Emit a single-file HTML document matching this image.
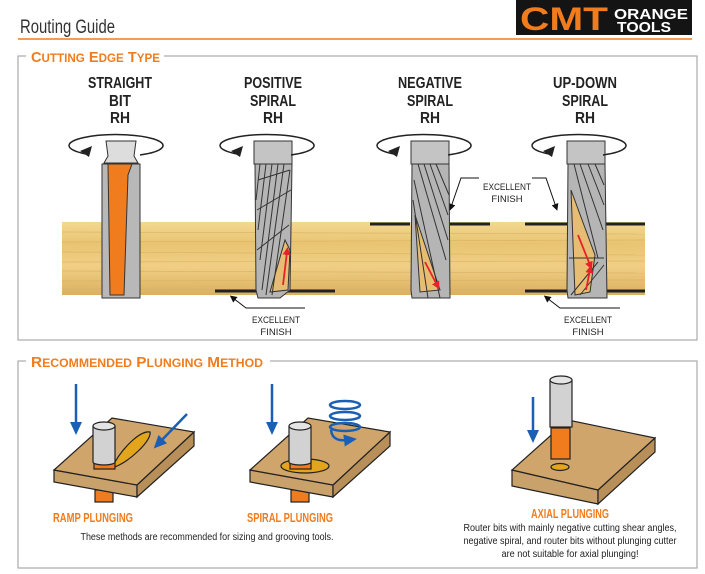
<!DOCTYPE html>
<html><head><meta charset="utf-8"><style>
html,body{margin:0;padding:0;background:#fff}
svg{display:block}
text{font-family:"Liberation Sans",sans-serif}
</style></head><body>
<svg width="705" height="574" viewBox="0 0 705 574" xmlns="http://www.w3.org/2000/svg">
<defs>
<linearGradient id="wood" x1="0" y1="0" x2="0" y2="1">
<stop offset="0" stop-color="#f3d890"/><stop offset="0.3" stop-color="#e8c472"/><stop offset="0.6" stop-color="#f0cf85"/><stop offset="1" stop-color="#dcb060"/>
</linearGradient>
<marker id="ah" markerUnits="userSpaceOnUse" markerWidth="14" markerHeight="14" refX="4" refY="7" orient="auto"><path d="M0,1 L13,7 L0,13 z" fill="#1a5fb4"/></marker>
<marker id="bk" markerUnits="userSpaceOnUse" markerWidth="7" markerHeight="7" refX="3" refY="3.5" orient="auto"><path d="M0,0 L7,3.5 L0,7 z" fill="#111"/></marker>
<marker id="rd" markerUnits="userSpaceOnUse" markerWidth="8" markerHeight="8" refX="3" refY="4" orient="auto"><path d="M0,0 L8,4 L0,8 z" fill="#e8212a"/></marker>
</defs>
<!-- header -->
<text x="20" y="33" font-size="19" fill="#333" textLength="95" lengthAdjust="spacingAndGlyphs">Routing Guide</text>
<rect x="516" y="0" width="176" height="35" fill="#141414"/>
<text x="520" y="30" font-size="32" font-weight="bold" fill="#f07c1e" textLength="88" lengthAdjust="spacingAndGlyphs">CMT</text>
<text x="614" y="19" font-size="15" font-weight="bold" fill="#fff" textLength="74" lengthAdjust="spacingAndGlyphs">ORANGE</text>
<text x="617" y="32" font-size="15" font-weight="bold" fill="#fff" textLength="54" lengthAdjust="spacingAndGlyphs">TOOLS</text>
<line x1="18" y1="39" x2="692" y2="39" stroke="#f07c1e" stroke-width="1.5"/>
<!-- box 1 -->
<rect x="18" y="56" width="679" height="284" fill="none" stroke="#aaa" stroke-width="1.2"/>
<rect x="26" y="48" width="138" height="16" fill="#fff"/>
<text x="31" y="62" font-size="15" font-weight="bold" fill="#f07c1e" textLength="129" lengthAdjust="spacingAndGlyphs">C<tspan font-size="12">UTTING</tspan> E<tspan font-size="12">DGE</tspan> T<tspan font-size="12">YPE</tspan></text>
<g font-size="16" font-weight="bold" fill="#222" text-anchor="middle">
<text x="120" y="88" textLength="64" lengthAdjust="spacingAndGlyphs">STRAIGHT</text><text x="120" y="106" textLength="22" lengthAdjust="spacingAndGlyphs">BIT</text><text x="120" y="123" textLength="20" lengthAdjust="spacingAndGlyphs">RH</text>
<text x="273" y="88" textLength="58" lengthAdjust="spacingAndGlyphs">POSITIVE</text><text x="273" y="106" textLength="46" lengthAdjust="spacingAndGlyphs">SPIRAL</text><text x="273" y="123" textLength="20" lengthAdjust="spacingAndGlyphs">RH</text>
<text x="430" y="88" textLength="64" lengthAdjust="spacingAndGlyphs">NEGATIVE</text><text x="430" y="106" textLength="46" lengthAdjust="spacingAndGlyphs">SPIRAL</text><text x="430" y="123" textLength="20" lengthAdjust="spacingAndGlyphs">RH</text>
<text x="585" y="88" textLength="64" lengthAdjust="spacingAndGlyphs">UP-DOWN</text><text x="585" y="106" textLength="46" lengthAdjust="spacingAndGlyphs">SPIRAL</text><text x="585" y="123" textLength="20" lengthAdjust="spacingAndGlyphs">RH</text>
</g>
<!-- wood -->
<rect x="62" y="222" width="583" height="73" fill="url(#wood)"/>
<g stroke="#d9ac5c" stroke-width="0.7" opacity="0.7">
<line x1="62" y1="232" x2="645" y2="234"/><line x1="62" y1="242" x2="645" y2="240"/><line x1="62" y1="252" x2="645" y2="255"/><line x1="62" y1="262" x2="645" y2="261"/><line x1="62" y1="271" x2="645" y2="273"/><line x1="62" y1="281" x2="645" y2="280"/><line x1="62" y1="289" x2="645" y2="290"/>
</g>
<!-- finish lines -->
<g stroke="#222" stroke-width="3">
<line x1="215" y1="291" x2="335" y2="291"/>
<line x1="370" y1="224" x2="410" y2="224"/><line x1="450" y1="224" x2="490" y2="224"/>
<line x1="525" y1="224" x2="645" y2="224"/><line x1="525" y1="291" x2="645" y2="291"/>
</g>
<g stroke="#111" fill="none" stroke-width="1">
<polyline points="305,308 246,308 233,298" marker-end="url(#bk)"/>
<polyline points="479,178 461,178 451,207" marker-end="url(#bk)"/>
<polyline points="532,178 546,178 556,207" marker-end="url(#bk)"/>
<polyline points="620,308 560,308 547,298" marker-end="url(#bk)"/>
</g>
<g font-size="9.5" fill="#222" text-anchor="middle">
<text x="276" y="323" textLength="48" lengthAdjust="spacingAndGlyphs">EXCELLENT</text><text x="276" y="335">FINISH</text>
<text x="507" y="190" textLength="48" lengthAdjust="spacingAndGlyphs">EXCELLENT</text><text x="507" y="202">FINISH</text>
<text x="588" y="323" textLength="48" lengthAdjust="spacingAndGlyphs">EXCELLENT</text><text x="588" y="335">FINISH</text>
</g>
<!-- straight bit -->
<g stroke="#333" stroke-width="1">
<path d="M106,141 L136,141 L134,156 L138,163 L104,163 L108,156 Z" fill="#ddd"/>
<rect x="102" y="164" width="38" height="134" fill="#b8b8b8"/>
<path d="M108,164 L132,164 L128,175 L124,295 L110,295 Z" fill="#f07c1e"/>
</g>
<!-- spiral bits -->
<g stroke="#333" stroke-width="1">
<rect x="254" y="141" width="38" height="23" fill="#c4c4c4"/>
<path d="M255,164 L292,164 L290,290 L280,298 L258,298 L256,290 Z" fill="#b5b5b5"/>
<path d="M285,240 L290,250 L288,290 L270,292 Z" fill="#e6bd72"/>
<path d="M260,164 L256,200 M266,164 L258,230 M272,164 L260,260 M278,164 L262,290 M284,164 L266,295 M290,170 L272,295 M258,180 L290,170 M257,210 L291,190 M257,250 L289,225" fill="none"/>
<rect x="411" y="141" width="38" height="23" fill="#c4c4c4"/>
<path d="M412,164 L449,164 L450,298 L412,298 L411,290 Z" fill="#b5b5b5"/>
<path d="M415,215 L440,290 L420,292 Z" fill="#e6bd72"/>
<path d="M418,164 L446,260 M424,164 L448,240 M430,164 L448,215 M436,164 L449,195 M414,180 L440,298 M413,200 L428,298" fill="none"/>
<rect x="567" y="141" width="38" height="23" fill="#c4c4c4"/>
<path d="M568,164 L605,164 L607,298 L568,298 L567,290 Z" fill="#b5b5b5"/>
<path d="M571,190 L595,255 L590,292 L575,295 Z" fill="#e6bd72"/>
<path d="M574,164 L598,258 M580,164 L603,230 M588,164 L604,205 M595,164 L604,185 M569,258 L604,258 M571,295 L598,262 M580,295 L604,265" fill="none"/>
</g>
<g stroke="#e8212a" stroke-width="1.8">
<line x1="283" y1="285" x2="287" y2="252" marker-end="url(#rd)"/>
<line x1="425" y1="262" x2="437" y2="285" marker-end="url(#rd)"/>
<line x1="578" y1="235" x2="590" y2="265" marker-end="url(#rd)"/>
<line x1="586" y1="290" x2="590" y2="270" marker-end="url(#rd)"/>
</g>
<!-- rotation ellipses -->
<g fill="none" stroke="#222" stroke-width="1.5">
<path d="M86,154 A47,11 0 1 1 140,155"/>
<path d="M237,154 A47,11 0 1 1 291,155"/>
<path d="M394,154 A47,11 0 1 1 448,155"/>
<path d="M549,154 A47,11 0 1 1 603,155"/>
</g>
<g fill="#222">
<path d="M80,151 L92,146 L89,157 Z"/><path d="M231,151 L243,146 L240,157 Z"/><path d="M388,151 L400,146 L397,157 Z"/><path d="M543,151 L555,146 L552,157 Z"/>
</g>
<!-- box 2 -->
<rect x="18" y="361" width="679" height="207" fill="none" stroke="#aaa" stroke-width="1.2"/>
<rect x="26" y="353" width="244" height="16" fill="#fff"/>
<text x="31" y="367" font-size="15" font-weight="bold" fill="#f07c1e" textLength="232" lengthAdjust="spacingAndGlyphs">R<tspan font-size="12">ECOMMENDED</tspan> P<tspan font-size="12">LUNGING</tspan> M<tspan font-size="12">ETHOD</tspan></text>
<!-- ramp -->
<g stroke="#222" stroke-width="1.2">
<rect x="95" y="490" width="18" height="12" fill="#f07c1e"/>
<polygon points="54,470 137,485 137,497 54,482" fill="#c9a26b"/>
<polygon points="137,485 194,432 194,446 137,497" fill="#b88f58"/>
<polygon points="54,470 137,485 194,432 112,418" fill="#cfa56c"/>
<path d="M112,468 C120,450 140,430 150,432 C152,440 130,462 112,468 Z" fill="#e2a51c"/>
<rect x="94" y="460" width="21" height="9" fill="#f07c1e"/>
<path d="M93,426 L93,462 A11,3 0 0 0 115,462 L115,426" fill="#d2d2d2"/>
<ellipse cx="104" cy="426" rx="11" ry="4" fill="#e4e4e4"/>
</g>
<g stroke="#1a5fb4" stroke-width="2.5" fill="none">
<line x1="76" y1="384" x2="76" y2="426" marker-end="url(#ah)"/>
<line x1="187" y1="414" x2="160" y2="442" marker-end="url(#ah)"/>
</g>
<!-- spiral -->
<g stroke="#222" stroke-width="1.2">
<rect x="291" y="490" width="18" height="12" fill="#f07c1e"/>
<polygon points="250,470 333,485 333,497 250,482" fill="#c9a26b"/>
<polygon points="333,485 390,432 390,446 333,497" fill="#b88f58"/>
<polygon points="250,470 333,485 390,432 308,418" fill="#cfa56c"/>
<ellipse cx="305" cy="466" rx="24" ry="7" fill="#e2a51c"/>
<rect x="290" y="460" width="21" height="9" fill="#f07c1e"/>
<path d="M289,426 L289,462 A11,3 0 0 0 311,462 L311,426" fill="#d2d2d2"/>
<ellipse cx="300" cy="426" rx="11" ry="4" fill="#e4e4e4"/>
</g>
<g stroke="#1a5fb4" stroke-width="2.5" fill="none">
<line x1="272" y1="384" x2="272" y2="426" marker-end="url(#ah)"/>
<ellipse cx="345" cy="405" rx="15" ry="4"/>
<ellipse cx="345" cy="416" rx="15" ry="4"/>
<ellipse cx="345" cy="427" rx="15" ry="4"/>
<path d="M331,430 C332,440 340,441 348,440" marker-end="url(#ah)"/>
</g>
<!-- axial -->
<g stroke="#222" stroke-width="1.2">
<polygon points="512,470 598,490 598,504 512,486" fill="#c9a26b"/>
<polygon points="598,490 655,438 655,452 598,504" fill="#b88f58"/>
<polygon points="512,470 598,490 655,438 568,420" fill="#cfa56c"/>
<ellipse cx="560" cy="467" rx="9" ry="3.5" fill="#e2a51c"/>
<rect x="551" y="428" width="19" height="31" fill="#f07c1e"/>
<rect x="550" y="380" width="22" height="47" fill="#d2d2d2"/>
<ellipse cx="561" cy="380" rx="11" ry="4" fill="#e4e4e4"/>
</g>
<line x1="533" y1="397" x2="533" y2="434" stroke="#1a5fb4" stroke-width="2.5" marker-end="url(#ah)"/>
<!-- captions -->
<g font-weight="bold" fill="#f07c1e" font-size="12.5" text-anchor="middle">
<text x="93" y="522" textLength="80" lengthAdjust="spacingAndGlyphs">RAMP PLUNGING</text>
<text x="290" y="522" textLength="86" lengthAdjust="spacingAndGlyphs">SPIRAL PLUNGING</text>
<text x="570" y="518" textLength="78" lengthAdjust="spacingAndGlyphs">AXIAL PLUNGING</text>
</g>
<g fill="#222" font-size="10" text-anchor="middle">
<text x="207" y="540" textLength="253" lengthAdjust="spacingAndGlyphs">These methods are recommended for sizing and grooving tools.</text>
<text x="570" y="531" textLength="213" lengthAdjust="spacingAndGlyphs">Router bits with mainly negative cutting shear angles,</text>
<text x="570" y="544" textLength="213" lengthAdjust="spacingAndGlyphs">negative spiral, and router bits without plunging cutter</text>
<text x="570" y="557" textLength="137" lengthAdjust="spacingAndGlyphs">are not suitable for axial plunging!</text>
</g>
</svg>
</body></html>
